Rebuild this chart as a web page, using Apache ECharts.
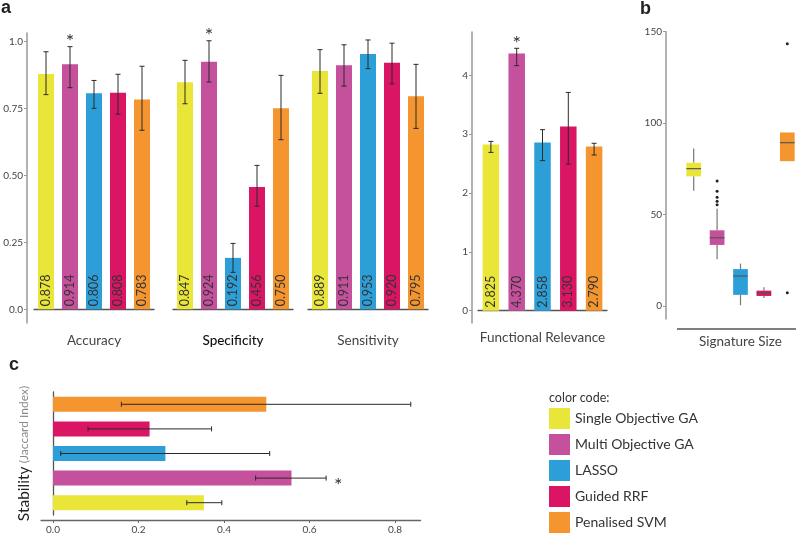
<!DOCTYPE html>
<html>
<head>
<meta charset="utf-8">
<script src="https://cdn.jsdelivr.net/npm/echarts@6/dist/echarts.min.js"></script>
<style>html,body{margin:0;padding:0;background:#fff}#c{width:799px;height:535px}</style>
</head>
<body>
<div id="c"></div>
<script>
// ---------- data ----------
const methods = ['Single Objective GA','Multi Objective GA','LASSO','Guided RRF','Penalised SVM'];
const colors = ['#E9E639','#C5509B','#2D9FD8','#DA1563','#F4952F'];

const accuracy     = [0.878, 0.914, 0.806, 0.808, 0.783];
const accuracyLow  = [0.801, 0.827, 0.750, 0.728, 0.668];
const accuracyHigh = [0.961, 0.980, 0.854, 0.877, 0.907];

const specificity     = [0.847, 0.924, 0.192, 0.456, 0.750];
const specificityLow  = [0.767, 0.848, 0.138, 0.385, 0.633];
const specificityHigh = [0.929, 1.002, 0.246, 0.537, 0.873];

const sensitivity     = [0.889, 0.911, 0.953, 0.920, 0.795];
const sensitivityLow  = [0.806, 0.833, 0.898, 0.841, 0.675];
const sensitivityHigh = [0.969, 0.987, 1.005, 0.993, 0.914];

const functional     = [2.825, 4.370, 2.858, 3.130, 2.790];
const functionalLow  = [2.69, 4.165, 2.55, 2.49, 2.646];
const functionalHigh = [2.877, 4.46, 3.077, 3.71, 2.845];

// signature size boxplots: [min, q1, median, q3, max]
const sigBoxes = [
  [63.0, 70.9, 75.1, 78.3, 86.2],
  [25.6, 33.4, 37.3, 41.4, 53.2],
  [0.4, 6.1, 16.4, 20.2, 23.2],
  [4.4, 5.5, 7.1, 8.4, 10.3],
  [79.2, 79.2, 89.3, 94.9, 94.9]
];
const sigOutliers = [[1, 68.4],[1, 62.7],[1, 59.5],[1, 57.3],[1, 55.4],[4, 143.4],[4, 7.3]];

const stability     = [0.353, 0.558, 0.263, 0.226, 0.499];
const stabilityLow  = [0.313, 0.474, 0.018, 0.082, 0.160];
const stabilityHigh = [0.395, 0.639, 0.507, 0.371, 0.837];

const aTicks = [0, 0.25, 0.5, 0.75, 1.0];
const frTicks = [0, 1, 2, 3, 4];
const sigTicks = [0, 50, 100, 150];
const stabTicks = [0, 0.2, 0.4, 0.6, 0.8];

const starA = 1; // Multi Objective GA marked significant

// ---------- helpers ----------
const FONT = 'Lato';
const txt = '#333';

function vErr(params, api) {
  const x = api.value(0), lo = api.value(1), hi = api.value(2);
  const p1 = api.coord([x, lo]), p2 = api.coord([x, hi]);
  const w = 2.5, st = {stroke: '#2a2a2a', lineWidth: 1};
  return {type: 'group', children: [
    {type: 'line', shape: {x1: p1[0], y1: p1[1], x2: p2[0], y2: p2[1]}, style: st},
    {type: 'line', shape: {x1: p1[0]-w, y1: p1[1], x2: p1[0]+w, y2: p1[1]}, style: st},
    {type: 'line', shape: {x1: p2[0]-w, y1: p2[1], x2: p2[0]+w, y2: p2[1]}, style: st}
  ]};
}
function hErr(params, api) {
  const lo = api.value(0), hi = api.value(1), y = api.value(2);
  const p1 = api.coord([lo, y]), p2 = api.coord([hi, y]);
  const w = 2.5, st = {stroke: '#2a2a2a', lineWidth: 1};
  return {type: 'group', children: [
    {type: 'line', shape: {x1: p1[0], y1: p1[1], x2: p2[0], y2: p2[1]}, style: st},
    {type: 'line', shape: {x1: p1[0], y1: p1[1]-w, x2: p1[0], y2: p1[1]+w}, style: st},
    {type: 'line', shape: {x1: p2[0], y1: p2[1]-w, x2: p2[0], y2: p2[1]+w}, style: st}
  ]};
}
function starV(params, api) {
  const p = api.coord([api.value(0), api.value(1)]);
  return {type: 'text', x: p[0], y: p[1] - 5, style: {text: '*', font: '20px ' + FONT, fill: '#333', textAlign: 'center', textVerticalAlign: 'middle'}};
}
function starH(params, api) {
  const p = api.coord([api.value(0), api.value(1)]);
  return {type: 'text', x: p[0] + 12, y: p[1] + 7, style: {text: '*', font: '20px ' + FONT, fill: '#333', textAlign: 'center', textVerticalAlign: 'middle'}};
}
function boxItem(params, api) {
  const i = api.value(0);
  const mn = api.value(1), q1 = api.value(2), md = api.value(3), q3 = api.value(4), mx = api.value(5);
  const w = 14.7;
  const pTop = api.coord([i, q3]), pBot = api.coord([i, q1]), pMed = api.coord([i, md]);
  const pMax = api.coord([i, mx]), pMin = api.coord([i, mn]);
  const cx = pTop[0];
  const children = [];
  const wst = {stroke: '#777', lineWidth: 1.2};
  if (pMax[1] < pTop[1]) children.push({type: 'line', shape: {x1: cx, y1: pMax[1], x2: cx, y2: pTop[1]}, style: wst});
  if (pMin[1] > pBot[1]) children.push({type: 'line', shape: {x1: cx, y1: pBot[1], x2: cx, y2: pMin[1]}, style: wst});
  children.push({type: 'rect', shape: {x: cx - w/2, y: pTop[1], width: w, height: pBot[1] - pTop[1]}, style: {fill: colors[i]}});
  children.push({type: 'line', shape: {x1: cx - w/2, y1: pMed[1], x2: cx + w/2, y2: pMed[1]}, style: {stroke: '#555', lineWidth: 1.2}});
  return {type: 'group', children};
}

const barLabel = {
  show: true, position: 'insideBottom', rotate: 90, align: 'left', verticalAlign: 'middle',
  distance: 3, fontSize: 12.5, color: txt, fontFamily: FONT,
  formatter: p => p.value.toFixed(3)
};

function yValAxis(grid, min, max, ticks, offset, fmt, show) {
  return {
    type: 'value', gridIndex: grid, min: min, max: max, offset: offset, show: show,
    axisLine: {show: true, lineStyle: {color: '#999', width: 1.5}},
    axisTick: {show: true, length: 3, customValues: ticks, lineStyle: {color: '#999'}},
    axisLabel: {customValues: ticks, formatter: fmt, fontSize: 10, color: '#444', fontFamily: FONT, margin: 4},
    splitLine: {show: false}
  };
}
function xCatAxis(grid, name, bold, offset, gap) {
  return {
    type: 'category', gridIndex: grid, data: methods, position: 'bottom', offset: offset,
    axisLine: {show: true, lineStyle: {color: '#555', width: 1.3}},
    axisTick: {show: false}, axisLabel: {show: false},
    name: name, nameLocation: 'middle', nameGap: gap,
    nameTextStyle: {fontSize: 13.5, color: bold ? '#111' : '#444', fontFamily: FONT, fontWeight: bold ? 500 : 400}
  };
}
const aFmt = v => (v === 0 ? '0.0' : v === 1 ? '1.0' : v.toFixed(2));

const chart = echarts.init(document.getElementById('c'), null, {renderer: 'canvas'});
const option = {
  animation: false,
  color: colors,
  grid: [
    {left: 34, top: 33, width: 120, height: 290},
    {left: 173, top: 33, width: 120, height: 290},
    {left: 308, top: 33, width: 120, height: 290},
    {left: 478, top: 32, width: 129, height: 291},
    {left: 682, top: 31.7, width: 121, height: 287.3},
    {left: 41, top: 392, width: 379.6, height: 125}
  ],
  xAxis: [
    xCatAxis(0, 'Accuracy', false, 1, 10),
    xCatAxis(1, 'Specificity', true, 1, 10),
    xCatAxis(2, 'Sensitivity', false, 1, 10),
    xCatAxis(3, 'Functional Relevance', false, 4, 4),
    {type: 'category', gridIndex: 4, data: methods, axisLine: {show: false}, axisTick: {show: false}, axisLabel: {show: false},
     name: 'Signature Size', nameLocation: 'middle', nameGap: 16,
     nameTextStyle: {fontSize: 13.5, color: '#444', fontFamily: FONT}},
    {type: 'value', gridIndex: 5, min: -0.028, max: 0.86, offset: 5,
     axisLine: {show: true, lineStyle: {color: '#666', width: 1.3}},
     axisTick: {show: true, length: 3, customValues: stabTicks, lineStyle: {color: '#666'}},
     axisLabel: {customValues: stabTicks, formatter: v => v.toFixed(1), fontSize: 10, color: '#444', fontFamily: FONT, margin: 5},
     splitLine: {show: false}}
  ],
  yAxis: [
    yValAxis(0, -0.051, 1.031, aTicks, 7, aFmt, true),
    yValAxis(1, -0.051, 1.031, aTicks, 0, aFmt, false),
    yValAxis(2, -0.051, 1.031, aTicks, 0, aFmt, false),
    yValAxis(3, -0.21, 4.737, frTicks, 6, v => String(v), true),
    yValAxis(4, -7.1, 150, sigTicks, 16, v => String(v), true),
    {type: 'category', gridIndex: 5, data: methods, offset: 4,
     axisLine: {show: true, lineStyle: {color: '#555', width: 1.3}},
     axisTick: {show: false}, axisLabel: {show: false},
     name: '{a|Stability} {b|(Jaccard Index)}', nameLocation: 'middle', nameGap: 5, nameRotate: 90,
     nameTextStyle: {rich: {
       a: {fontSize: 15.5, color: '#222', fontFamily: FONT},
       b: {fontSize: 12, color: '#888', fontFamily: FONT}
     }}}
  ],
  legend: {
    orient: 'vertical', left: 549, top: 408, padding: 0, itemWidth: 21, itemHeight: 21, itemGap: 5,
    icon: 'rect', selectedMode: false, data: methods,
    textStyle: {fontSize: 14, color: '#333', fontFamily: FONT}
  },
  graphic: [
    {type: 'text', x: 1, y: 8, style: {text: 'a', font: 'bold 18px "Liberation Sans"', fill: '#222', textVerticalAlign: 'middle'}},
    {type: 'text', x: 640, y: 9, style: {text: 'b', font: 'bold 18px "Liberation Sans"', fill: '#222', textVerticalAlign: 'middle'}},
    {type: 'text', x: 9, y: 365, style: {text: 'c', font: 'bold 18px "Liberation Sans"', fill: '#222', textVerticalAlign: 'middle'}},
    {type: 'line', shape: {x1: 677, y1: 329, x2: 796, y2: 329}, style: {stroke: '#555', lineWidth: 1.3}},
    {type: 'text', x: 549, y: 398, style: {text: 'color code:', font: '12.5px ' + FONT, fill: '#333', textVerticalAlign: 'middle'}}
  ],
  series: [
    {type: 'bar', xAxisIndex: 0, yAxisIndex: 0, data: accuracy, colorBy: 'data', barWidth: 16, label: barLabel},
    {type: 'bar', xAxisIndex: 1, yAxisIndex: 1, data: specificity, colorBy: 'data', barWidth: 16, label: barLabel},
    {type: 'bar', xAxisIndex: 2, yAxisIndex: 2, data: sensitivity, colorBy: 'data', barWidth: 16, label: barLabel},
    {type: 'bar', xAxisIndex: 3, yAxisIndex: 3, data: functional, colorBy: 'data', barWidth: 16.5, label: barLabel},
    {type: 'custom', xAxisIndex: 0, yAxisIndex: 0, renderItem: vErr, z: 5, data: accuracy.map((v, i) => [i, accuracyLow[i], accuracyHigh[i]])},
    {type: 'custom', xAxisIndex: 1, yAxisIndex: 1, renderItem: vErr, z: 5, data: specificity.map((v, i) => [i, specificityLow[i], specificityHigh[i]])},
    {type: 'custom', xAxisIndex: 2, yAxisIndex: 2, renderItem: vErr, z: 5, data: sensitivity.map((v, i) => [i, sensitivityLow[i], sensitivityHigh[i]])},
    {type: 'custom', xAxisIndex: 3, yAxisIndex: 3, renderItem: vErr, z: 5, data: functional.map((v, i) => [i, functionalLow[i], functionalHigh[i]])},
    {type: 'custom', xAxisIndex: 0, yAxisIndex: 0, renderItem: starV, z: 6, data: [[starA, accuracyHigh[starA]]]},
    {type: 'custom', xAxisIndex: 1, yAxisIndex: 1, renderItem: starV, z: 6, data: [[starA, specificityHigh[starA]]]},
    {type: 'custom', xAxisIndex: 3, yAxisIndex: 3, renderItem: starV, z: 6, data: [[starA, functionalHigh[starA]]]},
    {type: 'custom', xAxisIndex: 4, yAxisIndex: 4, renderItem: boxItem, z: 3, data: sigBoxes.map((b, i) => [i].concat(b))},
    {type: 'scatter', xAxisIndex: 4, yAxisIndex: 4, symbolSize: 3, itemStyle: {color: '#222', opacity: 1}, z: 4, data: sigOutliers},
    {type: 'bar', xAxisIndex: 5, yAxisIndex: 5, data: stability, colorBy: 'data', barWidth: 15},
    {type: 'custom', xAxisIndex: 5, yAxisIndex: 5, renderItem: hErr, z: 5, encode: {x: [0, 1], y: 2}, data: stability.map((v, i) => [stabilityLow[i], stabilityHigh[i], i])},
    {type: 'custom', xAxisIndex: 5, yAxisIndex: 5, renderItem: starH, z: 6, data: [[stabilityHigh[starA], starA]]}
  ].concat(methods.map((m, i) => ({
    type: 'scatter', name: m, xAxisIndex: 5, yAxisIndex: 5, data: [], itemStyle: {color: colors[i], opacity: 1}
  })))
};
chart.setOption(option);
</script>
</body>
</html>
